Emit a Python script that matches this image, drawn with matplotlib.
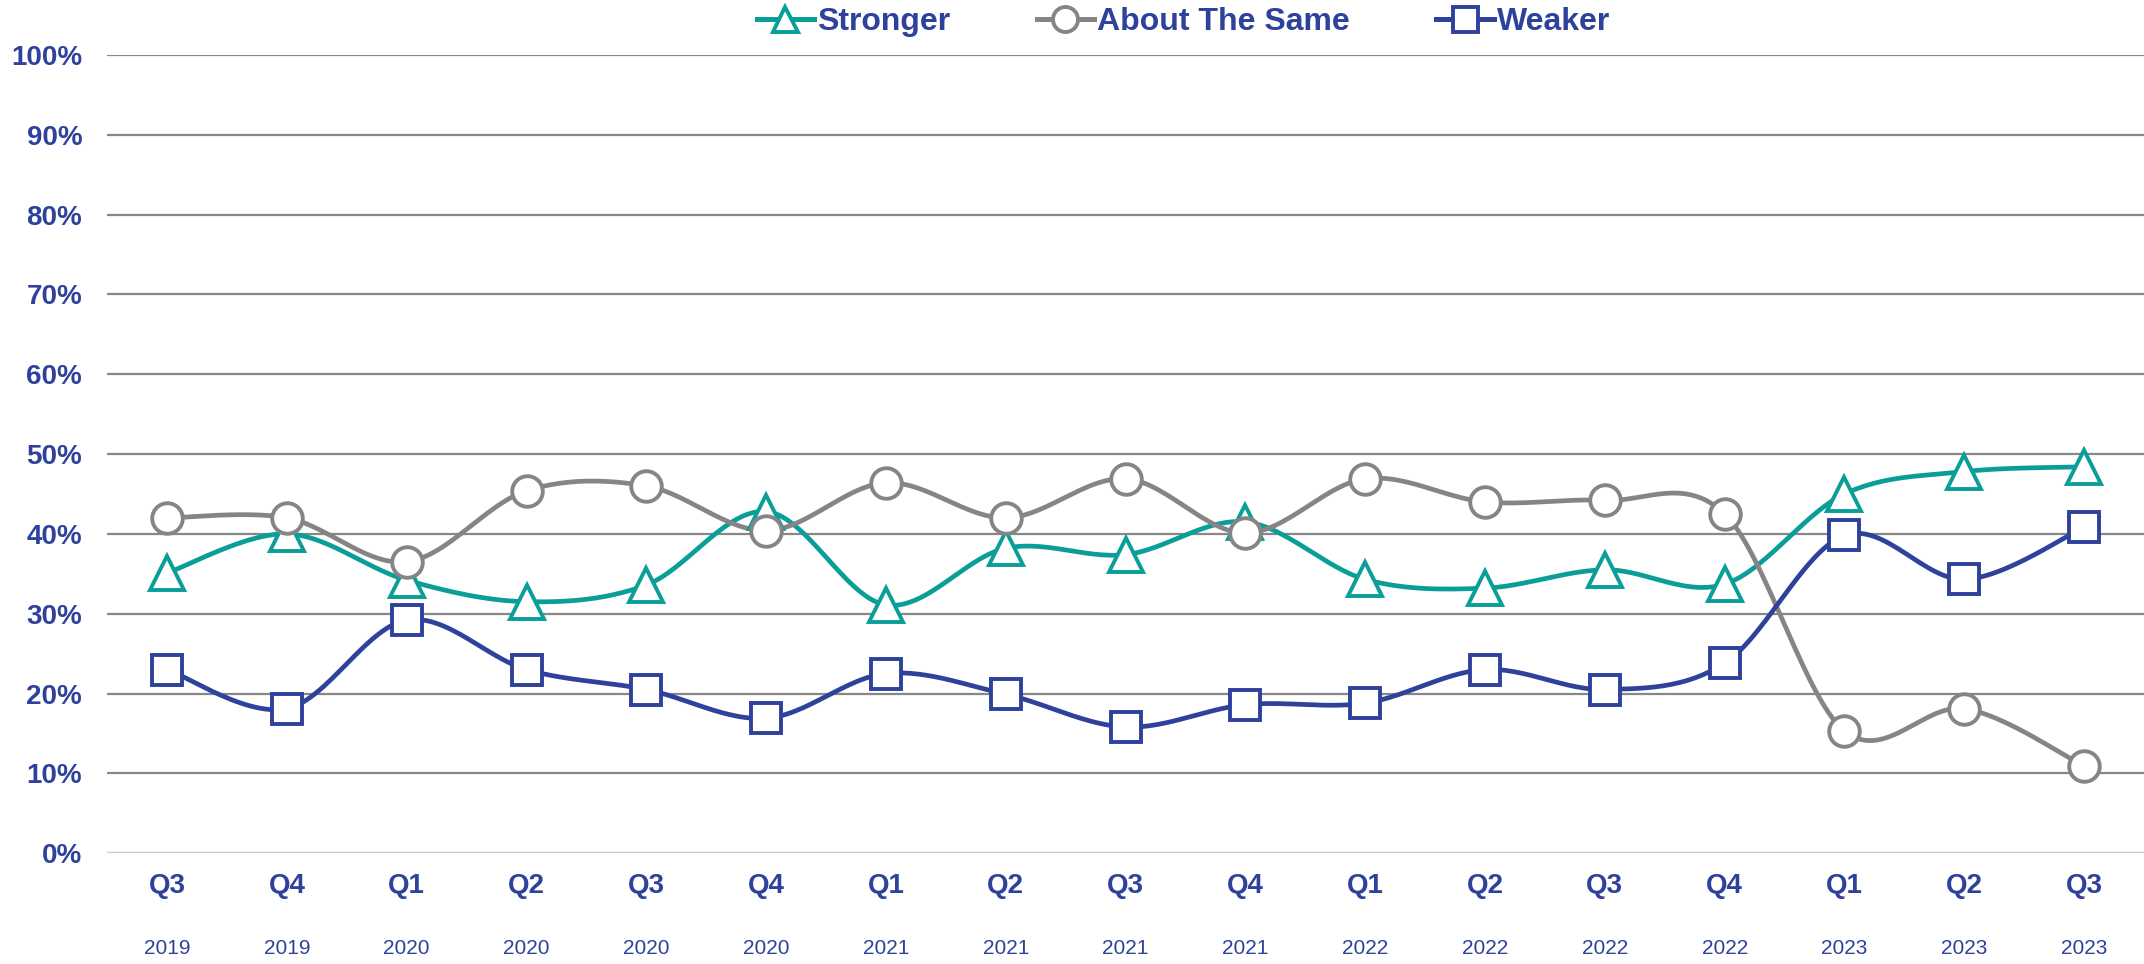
# smoothed quarterly survey lines, Excel-style look
import numpy as np
import matplotlib
matplotlib.use('Agg')
from matplotlib import pyplot as plt
from matplotlib.lines import Line2D

quarters = ['Q3', 'Q4', 'Q1', 'Q2', 'Q3', 'Q4', 'Q1', 'Q2', 'Q3', 'Q4',
            'Q1', 'Q2', 'Q3', 'Q4', 'Q1', 'Q2', 'Q3']
years = ['2019', '2019', '2020', '2020', '2020', '2020', '2021', '2021', '2021',
         '2021', '2022', '2022', '2022', '2022', '2023', '2023', '2023']

stronger = [35.1, 40.0, 34.2, 31.5, 33.6, 42.8, 31.1, 38.2, 37.4, 41.5,
            34.3, 33.2, 35.5, 33.7, 45.0, 47.8, 48.4]
same = [42.0, 42.0, 36.5, 45.4, 46.0, 40.4, 46.4, 42.0, 46.9, 40.1,
        46.9, 44.0, 44.2, 42.5, 15.3, 18.1, 10.9]
weaker = [23.0, 18.1, 29.2, 23.0, 20.5, 16.9, 22.5, 19.9, 15.8, 18.6,
          18.8, 23.0, 20.5, 23.8, 39.8, 34.3, 40.8]

TEAL = '#0A9E98'
GRAY = '#858585'
BLUE = '#2E419B'


def smooth(x, y, n=30):
    # bezier smoothing like the "smoothed line" option in Excel
    x = np.asarray(x, float)
    y = np.asarray(y, float)
    px = np.concatenate([[x[0]], x, [x[-1]]])
    py = np.concatenate([[y[0]], y, [y[-1]]])
    t = np.linspace(0, 1, n)
    xs, ys = [], []
    for i in range(len(x) - 1):
        p0 = np.array([px[i + 1], py[i + 1]])
        p3 = np.array([px[i + 2], py[i + 2]])
        p1 = p0 + (p3 - np.array([px[i], py[i]])) / 6
        p2 = p3 - (np.array([px[i + 3], py[i + 3]]) - p0) / 6
        b = (np.outer((1 - t) ** 3, p0) + np.outer(3 * (1 - t) ** 2 * t, p1)
             + np.outer(3 * (1 - t) * t ** 2, p2) + np.outer(t ** 3, p3))
        xs.extend(b[:, 0])
        ys.extend(b[:, 1])
    return xs, ys


plt.rcParams['font.family'] = ['Liberation Sans', 'DejaVu Sans']

fig = plt.figure(figsize=(21.44, 9.64), dpi=100)
ax = fig.add_axes([0.05, 0.115, 0.95, 0.828])

x = np.arange(len(quarters))
series = [('Stronger', stronger, TEAL, '^', 24),
          ('About The Same', same, GRAY, 'o', 22),
          ('Weaker', weaker, BLUE, 's', 21)]

handles = []
for name, vals, col, mk, ms in series:
    sx, sy = smooth(x, vals)
    ax.plot(sx, sy, color=col, lw=3.4, solid_capstyle='round', zorder=3)
    ax.plot(x, vals, ls='none', marker=mk, ms=ms, mfc='white', mec=col,
            mew=2.8, zorder=4)
    handles.append(Line2D([], [], color=col, lw=3.6, marker=mk, ms=18,
                          mfc='white', mec=col, mew=2.8, label=name))

ax.set_xlim(-0.5, len(quarters) - 0.5)
ax.set_ylim(0, 100)
ax.set_yticks(np.arange(0, 101, 10))
ax.set_yticklabels([f'{v}%' for v in range(0, 101, 10)])
for v in range(10, 101, 10):
    ax.axhline(v, color='#878787', lw=1.6, zorder=1)
ax.axhline(0, color='#cbcbcb', lw=2.5, zorder=1)

for s in ax.spines.values():
    s.set_visible(False)
ax.tick_params(axis='y', length=0, pad=18, labelsize=20, labelcolor=BLUE)
for lab in ax.get_yticklabels():
    lab.set_fontweight('bold')
ax.set_xticks([])

tr = ax.get_xaxis_transform()
for i in range(len(quarters)):
    ax.text(i, -0.041, quarters[i], transform=tr, ha='center', va='center',
            fontsize=20, fontweight='bold', color=BLUE)
    ax.text(i, -0.119, years[i], transform=tr, ha='center', va='center',
            fontsize=15, color=BLUE)

leg = fig.legend(handles=handles, loc='center', bbox_to_anchor=(0.552, 0.977),
                 ncol=3, frameon=False, fontsize=23, handlelength=1.8,
                 handletextpad=0.1, columnspacing=2.7)
for t in leg.get_texts():
    t.set_color(BLUE)
    t.set_fontweight('bold')

fig.savefig('out.png', dpi=100)
